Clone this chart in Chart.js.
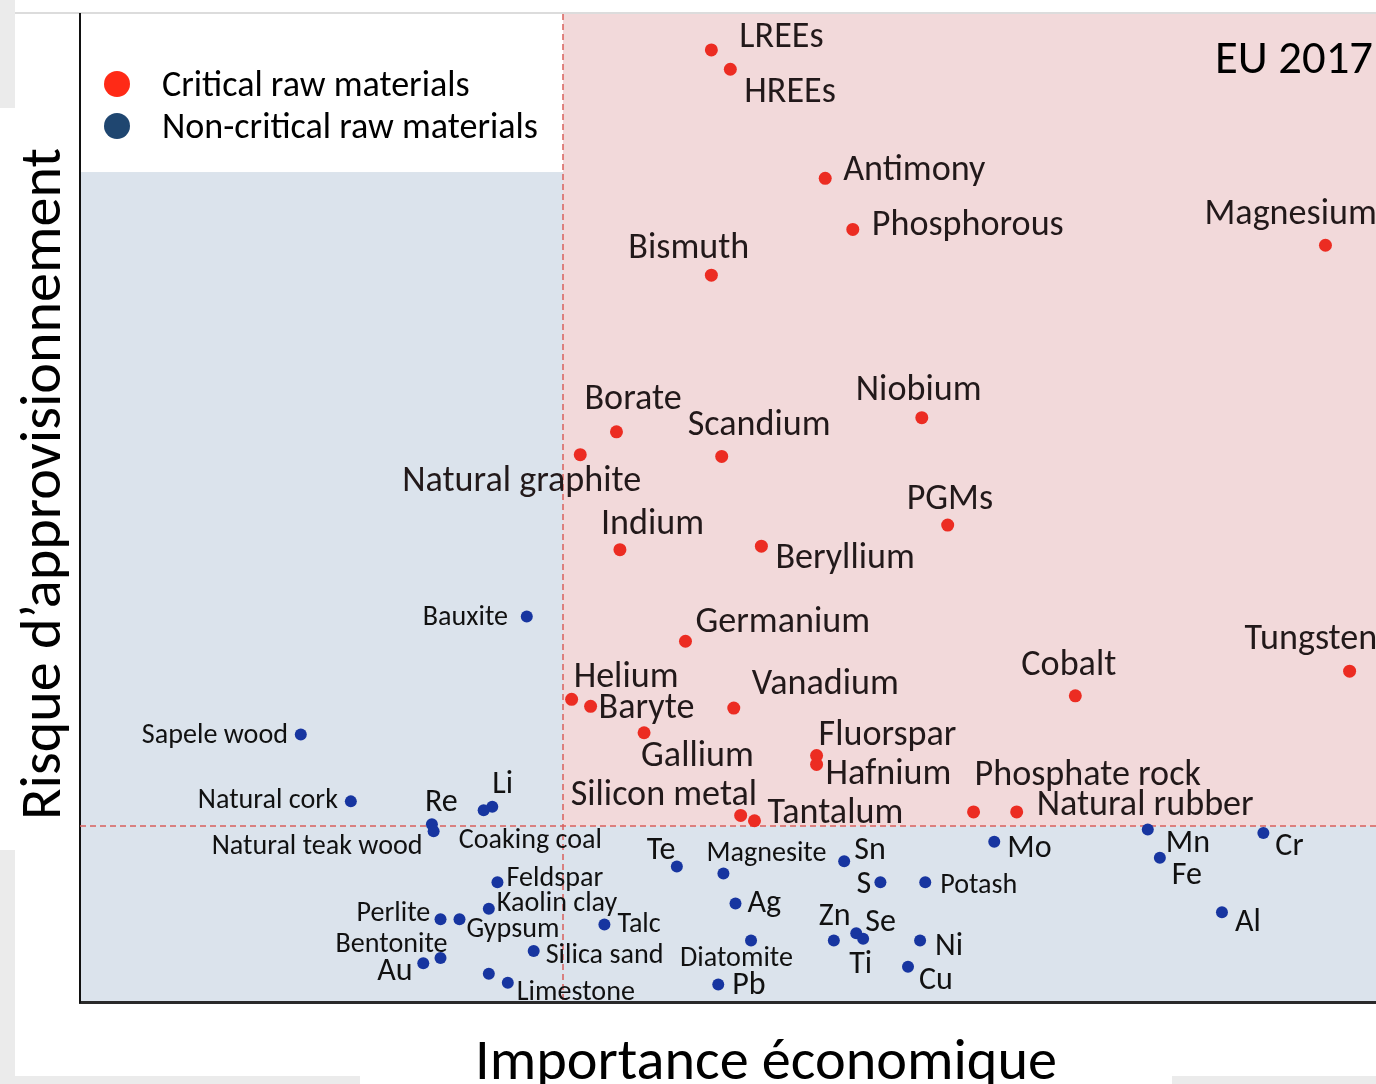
<!DOCTYPE html>
<html><head><meta charset="utf-8">
<script src="https://cdn.jsdelivr.net/npm/chart.js@4.4.1/dist/chart.umd.min.js"></script>
<style>html,body{margin:0;padding:0;background:#fff;overflow:hidden}
#wrap{position:relative;width:1376px;height:1084px}</style></head>
<body><div id="wrap"><canvas id="c"></canvas></div>
<script>
// ---- data (EU 2017 criticality assessment) ----
const criticalNames = ['LREEs','HREEs','Antimony','Phosphorous','Magnesium','Bismuth','Borate','Natural graphite','Scandium','Niobium','Indium','Beryllium','PGMs','Germanium','Tungsten','Cobalt','Helium','Baryte','Vanadium','Gallium','Fluorspar','Hafnium','Silicon metal','Tantalum','Phosphate rock','Natural rubber'];
const criticalEI = [3.66,3.77,4.32,4.48,7.22,3.66,3.11,2.90,3.72,4.88,3.13,3.95,5.03,3.51,7.36,5.77,2.85,2.96,3.79,3.27,4.27,4.27,3.83,3.91,5.18,5.43];
const criticalSR = [5.41,5.30,4.68,4.39,4.30,4.13,3.24,3.11,3.10,3.32,2.57,2.59,2.71,2.05,1.88,1.74,1.72,1.68,1.67,1.53,1.40,1.35,1.06,1.03,1.08,1.08];

const nonCriticalNames = ['Bauxite','Sapele wood','Natural cork','Re','Natural teak wood','Li','Coaking coal','Te','Magnesite','Sn','S','Potash','Mo','Mn','Fe','Cr','Al','Feldspar','Kaolin clay','Perlite','Gypsum','Talc','Bentonite','Au','Silica sand','','Limestone','Ag','Diatomite','Pb','Zn','Se','Ti','Ni','Cu'];
const nonCriticalEI = [2.59,1.28,1.57,2.04,2.05,2.39,2.34,3.46,3.73,4.43,4.64,4.90,5.30,6.19,6.26,6.86,6.62,2.42,2.37,2.09,2.20,3.04,2.09,1.99,2.63,2.37,2.48,3.80,3.89,3.70,4.37,4.50,4.54,4.87,4.80];
const nonCriticalSR = [2.19,1.52,1.14,1.01,0.97,1.11,1.09,0.77,0.73,0.80,0.68,0.68,0.91,0.98,0.82,0.96,0.51,0.68,0.53,0.47,0.47,0.44,0.25,0.22,0.29,0.16,0.11,0.56,0.35,0.10,0.35,0.39,0.36,0.35,0.20];

const seriesLabels = ['Critical raw materials','Non-critical raw materials'];
const EI_THRESHOLD = 2.8, SR_THRESHOLD = 1.0;
const EI_MAX = 7.513, SR_MAX = 5.614;
const LEGEND_BOX_SR = 4.716;
const xTitle = 'Importance économique';
const yTitle = 'Risque d’approvisionnement';
const cornerNote = 'EU 2017';

// ---- label placement (pixel offsets from each point: left edge, vertical middle) ----
const labelOffsets = {
 'LREEs':[28,-15],'HREEs':[14,21],'Antimony':[18,-10],'Phosphorous':[19,-6],'Magnesium':[-121,-33],
 'Bismuth':[-83,-29],'Borate':[-32,-35],'Natural graphite':[-178,24],'Scandium':[-34,-33],'Niobium':[-66,-30],
 'Indium':[-19,-28],'Beryllium':[14,10],'PGMs':[-41,-28],'Germanium':[10,-21],'Tungsten':[-105,-34],
 'Cobalt':[-54,-33],'Helium':[2,-24],'Baryte':[8,0],'Vanadium':[18,-26],'Gallium':[-3,21],'Fluorspar':[2,-23],
 'Hafnium':[9,8],'Silicon metal':[-170,-22],'Tantalum':[13,-10],'Phosphate rock':[1,-39],'Natural rubber':[20,-9],
 'Bauxite':[-104,-2],'Sapele wood':[-159,-2],'Natural cork':[-153,-3],'Re':[-7,-24],'Natural teak wood':[-222,13],
 'Li':[0,-25],'Coaking coal':[-25,28],'Te':[-30,-18],'Magnesite':[-17,-23],'Sn':[10,-13],'S':[-24,0],
 'Potash':[15,1],'Mo':[13,4],'Mn':[18,11],'Fe':[12,15],'Cr':[12,11],'Al':[13,8],'Feldspar':[9,-6],
 'Kaolin clay':[8,-8],'Perlite':[-84,-8],'Gypsum':[7,8],'Talc':[13,-3],'Bentonite':[-105,-16],'Au':[-46,6],
 'Silica sand':[12,2],'Limestone':[9,7],'Ag':[12,-2],'Diatomite':[-71,16],'Pb':[14,-1],'Zn':[-15,-26],
 'Se':[9,-13],'Ti':[-14,23],'Ni':[15,4],'Cu':[11,11]
};
const TEXT_SHIFT = 3;

const FAMILY = "Carlito, Lato, 'Open Sans', sans-serif";
const RED = '#ec2c22', BLUE = '#1735a0';
const LEG_RED = '#ff2a16', LEG_BLUE = '#1f4670';
const PINK_BG = '#f2d9da', BLUE_BG = '#dbe3ec';

const fitCache = {};
function fitSize(ctx, text, target) {
  const k = text + '|' + target;
  if (fitCache[k]) return fitCache[k];
  ctx.save(); ctx.font = '100px ' + FAMILY;
  const w = ctx.measureText(text).width; ctx.restore();
  return (fitCache[k] = 100 * target / w);
}
function stretched(ctx, text, x, y, size, targetW, rot, align) {
  ctx.save(); ctx.translate(x, y); ctx.rotate(rot);
  ctx.font = size + 'px ' + FAMILY;
  const w = ctx.measureText(text).width;
  ctx.scale(targetW / w, 1);
  ctx.textAlign = align || 'center'; ctx.textBaseline = 'alphabetic';
  ctx.fillStyle = '#000'; ctx.fillText(text, 0, 0); ctx.restore();
}

const decor = {
  id: 'decor',
  beforeDraw(chart) {
    const {ctx, scales:{x, y}, chartArea:a} = chart;
    ctx.save();
    ctx.fillStyle = '#fff'; ctx.fillRect(0, 0, chart.width, chart.height);
    ctx.fillStyle = '#ebebeb';
    ctx.fillRect(0, 0, 15, 108); ctx.fillRect(0, 850, 15, 234);
    ctx.fillRect(0, 1076, 360, 8); ctx.fillRect(1172, 1076, 204, 8);
    const tx = x.getPixelForValue(EI_THRESHOLD), ty = y.getPixelForValue(SR_THRESHOLD);
    const ly = y.getPixelForValue(LEGEND_BOX_SR);
    ctx.fillStyle = BLUE_BG; ctx.fillRect(a.left, a.top, a.right - a.left, a.bottom - a.top);
    ctx.fillStyle = '#fff'; ctx.fillRect(a.left, a.top, tx - a.left, ly - a.top);
    ctx.fillStyle = PINK_BG; ctx.fillRect(tx, a.top, a.right - tx, ty - a.top);
    ctx.strokeStyle = '#dcdcdc'; ctx.lineWidth = 2;
    ctx.beginPath(); ctx.moveTo(15, a.top - 1); ctx.lineTo(a.right, a.top - 1); ctx.stroke();
    ctx.restore();
  },
  beforeDatasetsDraw(chart) {
    const {ctx, scales:{x, y}, chartArea:a} = chart;
    const tx = x.getPixelForValue(EI_THRESHOLD), ty = y.getPixelForValue(SR_THRESHOLD);
    ctx.save(); ctx.strokeStyle = '#d9605c'; ctx.lineWidth = 1.5; ctx.setLineDash([6, 4]);
    ctx.beginPath(); ctx.moveTo(tx, a.top); ctx.lineTo(tx, a.bottom); ctx.stroke();
    ctx.beginPath(); ctx.moveTo(a.left, ty); ctx.lineTo(a.right, ty); ctx.stroke();
    ctx.restore();
  },
  afterDatasetsDraw(chart) {
    const {ctx} = chart;
    const critSize = fitSize(ctx, 'Natural graphite', 239);
    const nameSize = fitSize(ctx, 'Natural teak wood', 211);
    const symSize = nameSize * 1.14;
    ctx.save(); ctx.textAlign = 'left'; ctx.textBaseline = 'middle';
    chart.data.datasets.forEach((ds, di) => {
      const meta = chart.getDatasetMeta(di);
      meta.data.forEach((pt, i) => {
        const name = ds.names[i]; if (!name) return;
        const off = labelOffsets[name] || [8, 0];
        let size = di === 0 ? critSize : (name.length <= 2 ? symSize : nameSize);
        ctx.font = size + 'px ' + FAMILY;
        ctx.fillStyle = di === 0 ? '#22191a' : '#111';
        ctx.fillText(name, pt.x + off[0], pt.y + off[1] + TEXT_SHIFT);
      });
    });
    // legend
    const legSize = fitSize(ctx, seriesLabels[1], 376);
    ctx.font = legSize + 'px ' + FAMILY; ctx.fillStyle = '#000';
    [[LEG_RED, 84], [LEG_BLUE, 126]].forEach(([c, yy], i) => {
      ctx.fillStyle = c; ctx.beginPath(); ctx.arc(117, yy, 13, 0, Math.PI * 2); ctx.fill();
      ctx.fillStyle = '#000'; ctx.fillText(seriesLabels[i], 162, yy + TEXT_SHIFT);
    });
    // corner note
    ctx.font = fitSize(ctx, cornerNote, 158) + 'px ' + FAMILY;
    ctx.fillText(cornerNote, 1215, 58 + TEXT_SHIFT);
    ctx.restore();
    // axis titles
    stretched(ctx, xTitle, 766, 1079, 58, 582, 0);
    stretched(ctx, yTitle, 60, 484, 58, 672, -Math.PI / 2);
  }
};

const toPts = (xs, ys) => xs.map((v, i) => ({x: v, y: ys[i]}));
new Chart(document.getElementById('c'), {
  type: 'scatter',
  data: { datasets: [
    { label: seriesLabels[0], names: criticalNames, data: toPts(criticalEI, criticalSR),
      backgroundColor: RED, borderWidth: 0, pointRadius: 6.5 },
    { label: seriesLabels[1], names: nonCriticalNames, data: toPts(nonCriticalEI, nonCriticalSR),
      backgroundColor: BLUE, borderWidth: 0, pointRadius: 6 }
  ]},
  options: {
    responsive: true, maintainAspectRatio: false, animation: false,
    layout: { autoPadding: false, padding: { left: 80, top: 14, right: 0, bottom: 82 } },
    plugins: { legend: { display: false }, tooltip: { enabled: false } },
    events: [],
    scales: {
      x: { type: 'linear', min: 0, max: EI_MAX, grid: { display: false, drawTicks: false }, ticks: { display: false },
           border: { display: true, color: '#2a2a2a', width: 3 } },
      y: { type: 'linear', min: 0, max: SR_MAX, grid: { display: false, drawTicks: false }, ticks: { display: false },
           border: { display: true, color: '#111', width: 2 } }
    }
  },
  plugins: [decor]
});
</script></body></html>
